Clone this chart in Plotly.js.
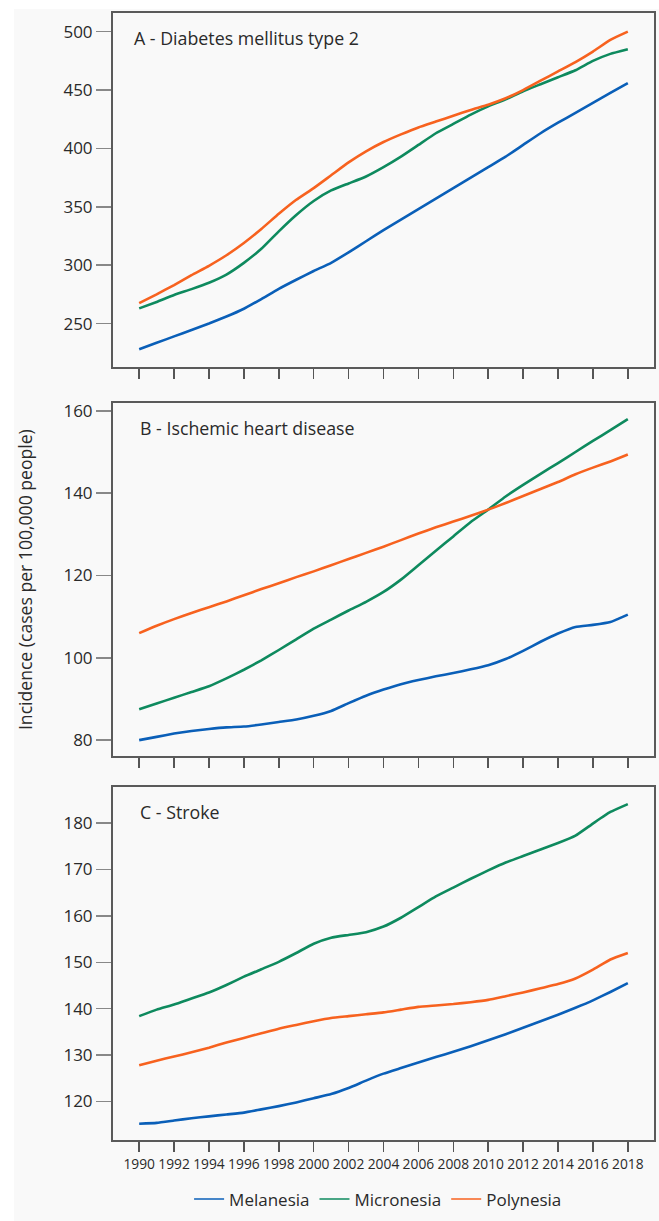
<!DOCTYPE html>
<html>
<head>
<meta charset="utf-8">
<script src="https://cdn.plot.ly/plotly-3.0.1.min.js"></script>
<style>
html,body{margin:0;padding:0;background:#ffffff;}
#chart{position:absolute;left:14px;top:9px;width:645px;height:1212px;}
</style>
</head>
<body>
<div id="chart"></div>
<script>
const years = [1990,1991,1992,1993,1994,1995,1996,1997,1998,1999,2000,2001,2002,2003,2004,2005,2006,2007,2008,2009,2010,2011,2012,2013,2014,2015,2016,2017,2018];
const seriesNames = ["Melanesia","Micronesia","Polynesia"];
const seriesColors = ["#0a5fb8","#0e8a5e","#f7621f"];
const panelTitles = ["A - Diabetes mellitus type 2","B - Ischemic heart disease","C - Stroke"];
const yAxisTitle = "Incidence (cases per 100,000 people)";
const xTickYears = [1990,1992,1994,1996,1998,2000,2002,2004,2006,2008,2010,2012,2014,2016,2018];

// Panel A - Diabetes mellitus type 2
const diabetesMelanesia = [228,233.5,239,244.5,250,256,262.7,271,279.7,287.5,295,302,311,320.5,330,339,348,357,366,375,384,393,403,413,422,430.5,439,447.5,456];
const diabetesMicronesia = [263,268.5,274.5,279.5,285,292,302,314,329,343,355,364,370,376,384,393,403,413,421,429,436,442,449,455,461,467,475,481,485];
const diabetesPolynesia = [267.5,275,283,291.5,299.5,308.5,319,331,344,356,366,377,388,397.5,405.5,412,418,423,428,433,437.5,443,450,458,466,474,483,493,500];

// Panel B - Ischemic heart disease
const ihdMelanesia = [80,80.8,81.6,82.2,82.7,83.1,83.3,83.8,84.4,85,85.9,87.1,89,90.8,92.3,93.6,94.6,95.5,96.3,97.2,98.2,99.7,101.7,103.9,105.9,107.5,108,108.7,110.5];
const ihdMicronesia = [87.5,88.9,90.3,91.7,93.1,95,97.1,99.4,101.9,104.5,107.1,109.3,111.5,113.6,116,119,122.5,126,129.5,133,136,139.2,142,144.7,147.3,150,152.7,155.3,158];
const ihdPolynesia = [106,107.8,109.4,110.9,112.3,113.7,115.2,116.7,118.1,119.6,121,122.5,124,125.5,127,128.6,130.2,131.7,133.1,134.5,136,137.6,139.3,141,142.7,144.6,146.2,147.7,149.4];

// Panel C - Stroke
const strokeMelanesia = [115.2,115.4,115.9,116.4,116.8,117.2,117.6,118.3,119,119.8,120.7,121.6,122.9,124.5,126,127.2,128.4,129.6,130.7,131.9,133.2,134.5,135.9,137.3,138.7,140.2,141.8,143.6,145.5];
const strokeMicronesia = [138.4,139.8,140.9,142.2,143.5,145.1,146.9,148.5,150.1,152,154,155.3,155.9,156.5,157.7,159.6,161.9,164.2,166.1,168,169.8,171.5,172.9,174.3,175.7,177.3,179.9,182.4,184.1];
const strokePolynesia = [127.8,128.8,129.7,130.6,131.6,132.7,133.7,134.7,135.7,136.5,137.3,138,138.4,138.8,139.2,139.8,140.4,140.7,141,141.4,141.9,142.7,143.5,144.4,145.3,146.5,148.4,150.6,152];

const panels = [
  {series:[diabetesMelanesia,diabetesMicronesia,diabetesPolynesia], range:[212.5,516], dtick:50, domain:[0.6856,1]},
  {series:[ihdMelanesia,ihdMicronesia,ihdPolynesia], range:[76.25,162], dtick:20, domain:[0.3411,0.6543]},
  {series:[strokeMelanesia,strokeMicronesia,strokePolynesia], range:[111.7,187.8], dtick:10, domain:[0,0.3133]}
];

const FONT = "Open Sans, DejaVu Sans, sans-serif";
const TXT = "#2a2a2a";
const traces = [];
const layout = {
  width:645, height:1212,
  paper_bgcolor:"#f9f9f9", plot_bgcolor:"#f9f9f9",
  margin:{l:99,r:5,t:4,b:69.3},
  showlegend:true,
  legend:{orientation:"h", x:0.49, xanchor:"center", y:-0.0527, yanchor:"middle",
          font:{family:FONT,size:17,color:TXT}, bgcolor:"rgba(0,0,0,0)", itemwidth:30, tracegroupgap:0},
  annotations:[],
  font:{family:FONT,color:TXT}
};

panels.forEach((p,i)=>{
  const k = i===0 ? "" : String(i+1);
  p.series.forEach((vals,j)=>{
    traces.push({x:years, y:vals, type:"scatter", mode:"lines", name:seriesNames[j],
      xaxis:"x"+k, yaxis:"y"+k, showlegend:false, hoverinfo:"skip",
      line:{color:seriesColors[j], width:2.6, shape:"spline", smoothing:0.4}});
  });
  layout["xaxis"+k] = {
    domain:[0,1], anchor:"y"+k, range:[1988.5,2019.5],
    tickmode:"array", tickvals:xTickYears, ticktext:xTickYears.map(String),
    showticklabels: i===2, ticks:"outside", ticklen:10, tickwidth:1.5, tickcolor:"#555",
    showline:true, linecolor:"#5a5a5a", linewidth:2, mirror:true,
    showgrid:false, zeroline:false,
    tickfont:{family:FONT,size:13.8,color:TXT}
  };
  if (i>0) layout["xaxis"+k].matches = "x";
  layout["yaxis"+k] = {
    domain:p.domain, anchor:"x"+k, range:p.range, dtick:p.dtick, tick0:0,
    ticks:"outside", ticklen:15, tickwidth:1.5, tickcolor:"#888",
    showline:true, linecolor:"#5a5a5a", linewidth:2, mirror:true,
    showgrid:false, zeroline:false,
    tickfont:{family:FONT,size:17,color:TXT}
  };
  layout.annotations.push({
    text:panelTitles[i], xref:"x"+k+" domain", yref:"y"+k+" domain",
    x:0, y:1, xanchor:"left", yanchor:"middle",
    xshift: i===0 ? 18.5 : 25, yshift:-25, showarrow:false,
    font:{family:FONT,size:17.8,color:TXT}
  });
});

// legend entries (thin lines)
seriesNames.forEach((n,j)=>{
  traces.push({x:[null], y:[null], type:"scatter", mode:"lines", name:n,
    xaxis:"x3", yaxis:"y3", showlegend:true, line:{color:seriesColors[j], width:1.5}});
});

layout.annotations.push({
  text:yAxisTitle, xref:"paper", yref:"paper", x:-0.1627, y:(0.3411+0.6543)/2,
  xanchor:"center", yanchor:"middle", textangle:-90, showarrow:false,
  font:{family:FONT,size:17.6,color:TXT}
});

Plotly.newPlot("chart", traces, layout, {displayModeBar:false, staticPlot:true});
</script>
</body>
</html>
